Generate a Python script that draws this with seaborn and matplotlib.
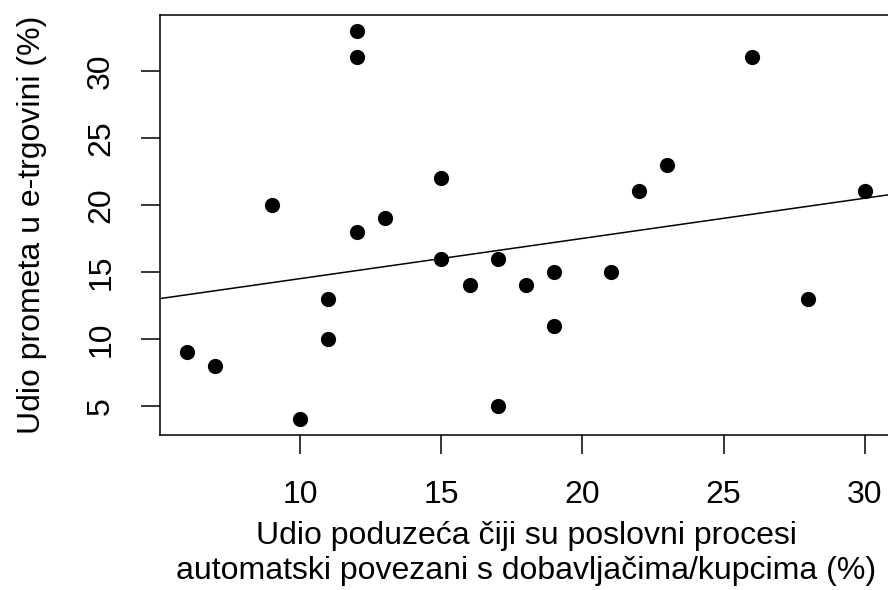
import matplotlib
matplotlib.use("Agg")
import matplotlib.pyplot as plt
import seaborn as sns
import numpy as np
import pandas as pd

# Data
automated_share = [6, 7, 9, 10, 11, 11, 12, 12, 12, 13, 15, 15,
                   16, 17, 17, 18, 19, 19, 21, 22, 23, 26, 28, 30]
ecommerce_share = [9, 8, 20, 4, 13, 10, 33, 31, 18, 19, 22, 16,
                   14, 16, 5, 14, 15, 11, 15, 21, 23, 31, 13, 21]
# fitted line as drawn in the reference (intercept, slope)
line_intercept = 11.5
line_slope = 0.30

x_ticks = [10, 15, 20, 25, 30]
y_ticks = [5, 10, 15, 20, 25, 30]

df = pd.DataFrame({"x": automated_share, "y": ecommerce_share})

sns.set_style("ticks")
plt.rcParams["font.family"] = ["Liberation Sans", "DejaVu Sans"]

W, H = 888, 590
fig = plt.figure(figsize=(W / 100, H / 100), dpi=100)
# axes box in pixels: left 160, right 892 (cut off), top 15, bottom 435
ax = fig.add_axes([160 / W, (H - 435) / H, (892 - 160) / W, (435 - 15) / H])

sns.scatterplot(data=df, x="x", y="y", ax=ax, color="black", s=120,
                edgecolor="black", linewidth=0, zorder=3)
ax.axline((0, line_intercept), slope=line_slope, color="black", lw=1.1)

# R-style 4% padding around the data range
xr = max(automated_share) - min(automated_share)
yr = max(ecommerce_share) - min(ecommerce_share)
ax.set_xlim(min(automated_share) - 0.04 * xr, max(automated_share) + 0.04 * xr)
ax.set_ylim(min(ecommerce_share) - 0.04 * yr, max(ecommerce_share) + 0.04 * yr)

ax.set_xticks(x_ticks)
ax.set_yticks(y_ticks)
ax.tick_params(axis="both", length=13.5, width=1.1, color="black",
               labelsize=23, labelcolor="black")
ax.tick_params(axis="x", pad=19)
ax.tick_params(axis="y", pad=18)
for lab in ax.get_yticklabels():
    lab.set_rotation(90)
    lab.set_va("center")

for sp in ax.spines.values():
    sp.set_linewidth(1.1)
    sp.set_color("black")
    sp.set_visible(True)

ax.set_xlabel("Udio poduzeća čiji su poslovni procesi\n"
              "automatski povezani s dobavljačima/kupcima (%)",
              fontsize=23, labelpad=8, linespacing=1.2, color="black")
ax.set_ylabel("Udio prometa u e-trgovini (%)", fontsize=23, labelpad=28,
              color="black")

fig.savefig("out.png", dpi=100)
